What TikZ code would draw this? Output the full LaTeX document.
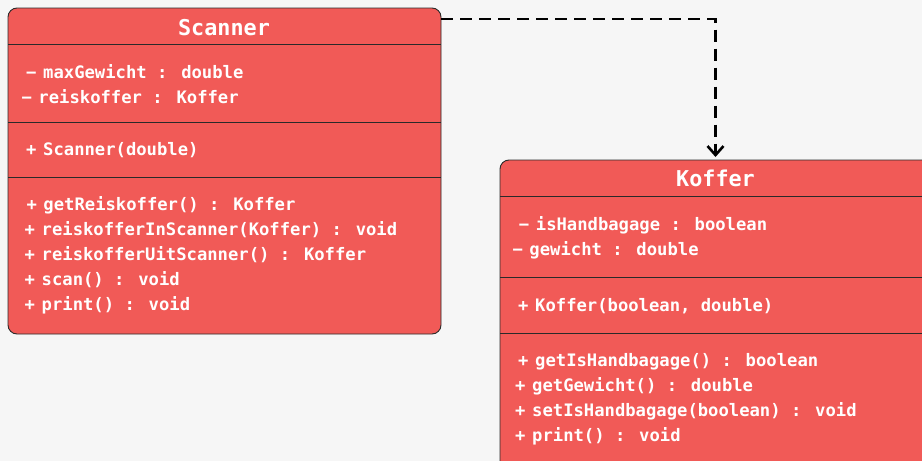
\documentclass[tikz,border=0pt]{standalone}
\usepackage{fontspec}
\newfontfamily\umlfont{DejaVu Sans Mono}
\usetikzlibrary{arrows.meta}
\definecolor{bg}{HTML}{F6F6F6}
\definecolor{boxred}{HTML}{F15A57}
\definecolor{edge}{HTML}{2A2A2A}
\newcommand{\umlpre}[1]{\llap{\makebox[17pt][l]{#1}}}
\begin{document}
\begin{tikzpicture}[x=1pt,y=-1pt,
  umlbox/.style={draw=edge, line width=0.9pt, fill=boxred, rounded corners=9pt, anchor=north west, inner sep=0pt, outer sep=0pt},
  sepline/.style={draw=edge, line width=0.9pt},
  umltitle/.style={text=white, font=\umlfont\bfseries\fontsize{21.8}{26}\selectfont, anchor=base, inner sep=0pt},
  member/.style={text=white, font=\umlfont\bfseries\fontsize{17.2}{20}\selectfont, anchor=base west, inner sep=0pt},
  dep/.style={draw=black, line width=2.6pt, dash pattern=on 12pt off 7pt, -{Straight Barb[length=9pt,width=16pt]}}]
\useasboundingbox (0,0) rectangle (922,461);
\clip (0,0) rectangle (922,461);
\fill[bg] (0,0) rectangle (922,461);
% Scanner
\node[umlbox, minimum width=433pt, minimum height=326pt] (scanner) at (8,8) {};
\draw[sepline] (scanner.west |- 0,44) -- (scanner.east |- 0,44);
\draw[sepline] (scanner.west |- 0,122) -- (scanner.east |- 0,122);
\draw[sepline] (scanner.west |- 0,177.5) -- (scanner.east |- 0,177.5);
\node[umltitle] (stitle) at (224,35) {Scanner};
\node[member] (sa1) at (43,78) {\umlpre{−}maxGewicht : double};
\node[member] (sa2) at (38.3,103) {\umlpre{−}reiskoffer : Koffer};
\node[member] (sc1) at (43,155) {\umlpre{+}Scanner(double)};
\node[member] (sm1) at (43.3,210.5) {\umlpre{+}getReiskoffer() : Koffer};
\node[member] (sm2) at (41.5,235.5) {\umlpre{+}reiskofferInScanner(Koffer) : void};
\node[member] (sm3) at (41.5,260.5) {\umlpre{+}reiskofferUitScanner() : Koffer};
\node[member] (sm4) at (41.5,285.5) {\umlpre{+}scan() : void};
\node[member] (sm5) at (41.5,310.5) {\umlpre{+}print() : void};
% Koffer
\node[umlbox, minimum width=431pt, minimum height=330pt] (koffer) at (500,160) {};
\draw[sepline] (koffer.west |- 0,196.5) -- (koffer.east |- 0,196.5);
\draw[sepline] (koffer.west |- 0,277.5) -- (koffer.east |- 0,277.5);
\draw[sepline] (koffer.west |- 0,333.5) -- (koffer.east |- 0,333.5);
\node[umltitle] (ktitle) at (715.5,186.5) {Koffer};
\node[member] (ka1) at (535.7,230) {\umlpre{−}isHandbagage : boolean};
\node[member] (ka2) at (529.3,255) {\umlpre{−}gewicht : double};
\node[member] (kc1) at (535,311.5) {\umlpre{+}Koffer(boolean, double)};
\node[member] (km1) at (535,366.5) {\umlpre{+}getIsHandbagage() : boolean};
\node[member] (km2) at (532,391.5) {\umlpre{+}getGewicht() : double};
\node[member] (km3) at (532,416.5) {\umlpre{+}setIsHandbagage(boolean) : void};
\node[member] (km4) at (532,441.5) {\umlpre{+}print() : void};
% dependency
\draw[dep] ([yshift=-11pt]scanner.north east) -| ([yshift=3pt]koffer.north);
\end{tikzpicture}
\end{document}
